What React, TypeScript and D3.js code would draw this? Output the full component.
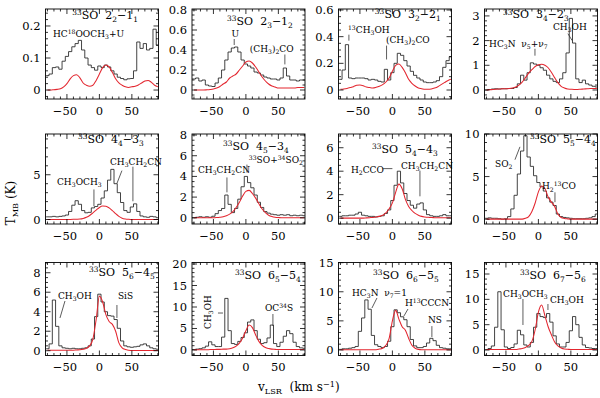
import React, { useEffect, useRef } from "react";
import * as d3 from "d3";

// channel velocities, km/s
const vlsr = [-80, -75, -70, -65, -60, -55, -50, -45, -40, -35, -30, -25, -20, -15, -10, -5, 0, 5, 10, 15, 20, 25, 30, 35, 40, 45, 50, 55, 60, 65, 70, 75, 80, 85, 90];

const xMajor = [-50, 0, 50];
const xMinor = [-80, -70, -60, -40, -30, -20, -10, 10, 20, 30, 40, 60, 70, 80, 90];

const titles = [
  "^{33}SO  2_{2}−1_{1}", "^{33}SO  2_{3}−1_{2}", "^{33}SO  3_{2}−2_{1}", "^{33}SO  3_{4}−2_{3}",
  "^{33}SO  4_{4}−3_{3}", "^{33}SO  4_{5}−3_{4}", "^{33}SO  5_{4}−4_{3}", "^{33}SO  5_{5}−4_{4}",
  "^{33}SO  5_{6}−4_{5}", "^{33}SO  6_{5}−5_{4}", "^{33}SO  6_{6}−5_{5}", "^{33}SO  6_{7}−5_{6}",
];

// observed spectra (black) and model (red), T_MB in K
const obs1 = [0.045, 0.05, 0.07, 0.072, 0.065, 0.09, 0.105, 0.12, 0.135, 0.145, 0.155, 0.125, 0.1, 0.078, 0.07, 0.062, 0.075, 0.07, 0.078, 0.072, 0.06, 0.05, 0.04, 0.036, 0.032, 0.035, 0.036, 0.06, 0.15, 0.13, 0.145, 0.125, 0.13, 0.19, 0.14];
const mod1 = [0, 0, 0.001, 0.002, 0.004, 0.01, 0.02, 0.035, 0.045, 0.048, 0.038, 0.022, 0.015, 0.012, 0.015, 0.03, 0.05, 0.07, 0.078, 0.072, 0.055, 0.035, 0.022, 0.015, 0.01, 0.008, 0.01, 0.012, 0.016, 0.022, 0.028, 0.03, 0.024, 0.015, 0.01];
const obs2 = [0.11, 0.12, 0.09, 0.1, 0.05, 0.04, 0.035, 0.07, 0.12, 0.2, 0.3, 0.38, 0.42, 0.43, 0.38, 0.3, 0.26, 0.24, 0.22, 0.18, 0.17, 0.15, 0.13, 0.12, 0.11, 0.11, 0.1, 0.12, 0.22, 0.14, 0.1, 0.1, 0.09, 0.1, 0.1];
const mod2 = [0, 0, 0, 0, 0.002, 0.005, 0.01, 0.02, 0.035, 0.06, 0.08, 0.12, 0.14, 0.16, 0.2, 0.24, 0.28, 0.29, 0.27, 0.23, 0.18, 0.13, 0.09, 0.06, 0.04, 0.03, 0.02, 0.02, 0.02, 0.02, 0.02, 0.02, 0.025, 0.025, 0.025];
const obs3 = [0.08, 0.15, 0.34, 0.09, 0.085, 0.09, 0.09, 0.09, 0.085, 0.075, 0.08, 0.075, 0.065, 0.06, 0.155, 0.075, 0.13, 0.2, 0.275, 0.26, 0.22, 0.18, 0.14, 0.11, 0.09, 0.075, 0.06, 0.055, 0.055, 0.06, 0.07, 0.1, 0.17, 0.22, 0.25];
const mod3 = [0.005, 0.008, 0.012, 0.018, 0.025, 0.035, 0.037, 0.032, 0.022, 0.018, 0.015, 0.02, 0.028, 0.04, 0.06, 0.09, 0.14, 0.185, 0.195, 0.17, 0.13, 0.08, 0.05, 0.03, 0.015, 0.01, 0.005, 0.005, 0.008, 0.015, 0.025, 0.04, 0.055, 0.07, 0.08];
const obs4 = [0, 0.02, 0.04, 0.05, 0.04, 0.05, 0.05, 0.06, 0.06, 0.1, 0.25, 0.6, 0.4, 0.7, 1.1, 1.05, 1.0, 0.9, 0.8, 0.6, 0.45, 0.35, 0.3, 0.45, 0.7, 1.5, 2.9, 1.9, 0.45, 0.3, 0.4, 0.25, 0.2, 0.15, 0.12];
const mod4 = [0, 0.01, 0.02, 0.03, 0.04, 0.05, 0.05, 0.06, 0.08, 0.12, 0.2, 0.32, 0.5, 0.68, 0.82, 0.95, 1.02, 1.04, 1.0, 0.9, 0.72, 0.5, 0.3, 0.15, 0.08, 0.04, 0.03, 0.02, 0.02, 0.03, 0.04, 0.05, 0.06, 0.06, 0.06];
const obs5 = [0.3, 0.3, 0.35, 0.3, 0.35, 0.4, 0.5, 0.9, 1.6, 2.1, 1.7, 1.0, 0.75, 0.8, 1.3, 1.45, 1.7, 2.4, 3.2, 4.4, 5.6, 4.0, 3.0, 1.9, 1.0, 0.8, 1.4, 1.75, 0.9, 0.4, 0.3, 0.25, 0.35, 0.3, 0.2];
const mod5 = [0, 0, 0, 0, 0, 0, 0, 0.01, 0.02, 0.03, 0.05, 0.12, 0.25, 0.45, 0.75, 1.05, 1.35, 1.5, 1.48, 1.3, 1.0, 0.65, 0.35, 0.15, 0.06, 0.02, 0, 0, 0, 0, 0, 0, 0, 0, 0];
const obs6 = [0, 0.05, 0.1, 0.05, 0.1, 0.05, 0.15, 0.4, 0.7, 0.9, 2.2, 1.3, 0.5, 0.9, 1.8, 3.0, 4.0, 3.4, 2.9, 2.2, 1.5, 1.0, 0.6, 0.45, 0.35, 0.3, 0.25, 0.3, 0.25, 0.3, 0.2, 0.25, 0.2, 0.25, 0.2];
const mod6 = [0, 0, 0, 0, 0, 0, 0.01, 0.02, 0.05, 0.1, 0.2, 0.35, 0.6, 1.0, 1.5, 2.1, 2.55, 2.65, 2.35, 1.9, 1.35, 0.85, 0.5, 0.25, 0.12, 0.05, 0.02, 0, 0, 0, 0, 0, 0, 0, 0];
const obs7 = [0.15, 0.2, 0.2, 0.25, 0.25, 0.35, 0.5, 0.25, 0.2, 0.15, 0.15, 0.1, 0.15, 0.2, 0.4, 0.7, 1.5, 2.8, 4.0, 3.0, 2.1, 1.5, 1.1, 0.85, 1.2, 1.3, 0.7, 0.3, 0.2, 0.15, 0.15, 0.2, 0.3, 0.2, 0.2];
const mod7 = [0, 0, 0, 0, 0, 0, 0, 0, 0.02, 0.04, 0.06, 0.1, 0.15, 0.25, 0.45, 0.8, 1.3, 2.2, 2.9, 2.5, 1.6, 1.0, 0.65, 0.4, 0.25, 0.15, 0.1, 0.07, 0.05, 0.04, 0.03, 0.03, 0.03, 0.03, 0.03];
const obs8 = [0.1, 0.15, 0.1, 0.1, 0.05, 0, 0.05, 0.3, 1.2, 2.8, 5.3, 8.0, 9.8, 7.3, 6.2, 5.1, 4.3, 3.8, 3.3, 2.5, 2.0, 1.6, 0.6, 0.3, 0.2, 0.15, 0.1, 0.05, 0.05, 0.05, 0.05, 0.1, 0.15, 0.3, 0.6];
const mod8 = [0, 0, 0, 0, 0, 0, 0, 0, 0, 0, 0, 0, 0.1, 0.3, 0.9, 1.9, 3.2, 3.9, 3.6, 2.6, 2.0, 1.5, 0.6, 0.2, 0.08, 0.03, 0, 0, 0, 0, 0, 0, 0, 0, 0];
const obs9 = [0.2, 0.7, 5.2, 2.5, 0.5, 0.3, 0.25, 0.2, 0.25, 0.2, 0.2, 0.25, 0.3, 0.5, 1.2, 3.5, 5.8, 5.0, 4.0, 3.6, 3.55, 3.2, 2.3, 1.0, 0.5, 0.4, 0.35, 0.4, 0.45, 0.6, 0.7, 0.5, 0.3, 0.2, 0.15];
const mod9 = [0.05, 0.05, 0.05, 0.05, 0.05, 0.05, 0.05, 0.05, 0.05, 0.08, 0.1, 0.15, 0.25, 0.5, 1.2, 3.2, 5.6, 5.0, 3.7, 3.0, 2.7, 2.0, 0.8, 0.3, 0.12, 0.05, 0.02, 0.02, 0.02, 0.02, 0.02, 0.02, 0.02, 0.02, 0.02];
const obs10 = [0.1, 0.2, 0.3, 0.5, 0.9, 1.9, 1.2, 0.8, 0.8, 3.0, 12.0, 4.5, 1.5, 1.3, 2.0, 2.9, 4.0, 6.5, 7.0, 4.5, 2.5, 1.5, 1.7, 2.8, 5.8, 1.5, 0.8, 1.8, 3.2, 4.5, 3.8, 1.8, 0.8, 0.5, 0.4];
const mod10 = [0.05, 0.05, 0.05, 0.05, 0.05, 0.1, 0.1, 0.15, 0.15, 0.2, 0.2, 0.3, 0.5, 0.9, 1.6, 2.8, 4.5, 5.8, 5.2, 3.5, 2.0, 1.1, 0.6, 0.35, 0.2, 0.15, 0.1, 0.1, 0.1, 0.1, 0.1, 0.1, 0.1, 0.1, 0.1];
const obs11 = [0.1, 0.2, 0.2, 0.3, 0.4, 0.6, 3.2, 5.5, 8.6, 7.0, 2.5, 0.9, 0.6, 0.4, 0.6, 1.5, 4.0, 6.9, 6.4, 5.7, 5.2, 4.0, 1.8, 0.7, 0.4, 0.4, 0.6, 1.2, 2.0, 1.6, 0.8, 0.4, 0.3, 0.2, 0.2];
const mod11 = [0.05, 0.05, 0.05, 0.05, 0.05, 0.05, 0.05, 0.05, 0.05, 0.05, 0.05, 0.05, 0.15, 0.3, 0.8, 2.0, 5.0, 6.8, 5.3, 4.0, 3.4, 2.0, 0.8, 0.3, 0.1, 0.05, 0.05, 0.05, 0.05, 0.05, 0.05, 0.05, 0.05, 0.05, 0.05];
const obs12 = [0.1, 0.3, 0.8, 4.5, 11.5, 4.0, 0.6, 0.3, 0.5, 1.2, 3.9, 3.0, 1.0, 0.6, 1.5, 4.5, 7.2, 6.6, 6.4, 7.2, 5.5, 2.8, 1.2, 0.6, 0.6, 1.5, 3.8, 6.6, 5.0, 2.5, 1.0, 0.5, 0.4, 0.3, 0.3];
const mod12 = [0.1, 0.1, 0.1, 0.1, 0.1, 0.1, 0.1, 0.1, 0.1, 0.1, 0.2, 0.3, 0.5, 0.9, 1.7, 4.0, 7.5, 8.9, 6.8, 4.6, 3.0, 1.6, 0.8, 0.4, 0.2, 0.15, 0.1, 0.1, 0.1, 0.1, 0.1, 0.1, 0.1, 0.1, 0.1];

const yTicks = [
  [0, 0.1, 0.2], [0, 0.2, 0.4, 0.6, 0.8], [0, 0.2, 0.4, 0.6], [0, 1, 2, 3],
  [0, 5], [0, 2, 4, 6, 8], [0, 2, 4, 6], [0, 5, 10],
  [0, 2, 4, 6, 8], [0, 5, 10, 15, 20], [0, 5, 10, 15], [0, 5, 10, 15],
];

const FONT = "'DejaVu Serif', serif";
const colLeft = [45.5, 192, 338.5, 484.5];
const rowTop = [9, 134, 262.5];
const rowH = [90, 90, 93];
const PW = 113;
const xDomain = [-83, 91];

type Label = { t: string; v: number; T: number; tick?: number[][]; rot?: boolean };
type Panel = { obs: number[]; mod: number[]; yd: number[]; minor: number; tv: number; tT: number; labels: Label[] };

const panels: Panel[] = [
  { obs: obs1, mod: mod1, yd: [-0.028, 0.253], minor: 0.02, tv: -42, tT: 0.222,
    labels: [{ t: "HC^{18}OOCH_{3}+U", v: -71.5, T: 0.167 }] },
  { obs: obs2, mod: mod2, yd: [-0.09, 0.81], minor: 0.05, tv: -29, tT: 0.65,
    labels: [
      { t: "U", v: -22, T: 0.533, tick: [[-18, 0.51], [-18, 0.45]] },
      { t: "(CH_{3})_{2}CO", v: 6, T: 0.385, tick: [[60, 0.355], [60, 0.256]] },
    ] },
  { obs: obs3, mod: mod3, yd: [-0.0675, 0.6075], minor: 0.05, tv: -27, tT: 0.54,
    labels: [
      { t: "^{13}CH_{3}OH", v: -68.4, T: 0.43, tick: [[-67, 0.415], [-67, 0.37]] },
      { t: "(CH_{3})_{2}CO", v: -10, T: 0.355, tick: [[-9, 0.333], [-9, 0.229]] },
    ] },
  { obs: obs4, mod: mod4, yd: [-0.365, 3.28], minor: 0.2, tv: -54.5, tT: 2.9,
    labels: [
      { t: "CH_{3}OH", v: 22.4, T: 2.44, tick: [[45.5, 2.28], [52, 2.0]] },
      { t: "HC_{3}N  ν_{5}+ν_{7}", v: -76, T: 1.75, tick: [[-5.3, 1.67], [-5.3, 1.39]] },
    ] },
  { obs: obs5, mod: mod5, yd: [-0.5, 9.55], minor: 1, tv: -33, tT: 8.56,
    labels: [
      { t: "CH_{3}OCH_{3}", v: -65.3, T: 3.9, tick: [[-8.4, 3.36], [-8.4, 1.48]] },
      { t: "CH_{3}CH_{2}CN", v: 16.2, T: 6.12, tick: [[34.7, 5.46], [27, 4.03]] },
      { t: "", v: 0, T: 0, tick: [[51.6, 5.9], [51.6, 2.04]] },
    ] },
  { obs: obs6, mod: mod6, yd: [-0.6, 8.1], minor: 0.5, tv: -35.3, tT: 6.57,
    labels: [
      { t: "CH_{3}CH_{2}CN", v: -73.8, T: 4.37, tick: [[-29.2, 3.9], [-29.2, 2.46]] },
      { t: "^{33}SO+^{34}SO_{2}", v: 4.5, T: 5.33, tick: [[1.6, 5.14], [1.6, 4.37]] },
    ] },
  { obs: obs7, mod: mod7, yd: [-0.5, 7.17], minor: 0.5, tv: -31.5, tT: 5.57,
    labels: [
      { t: "H_{2}CCO", v: -63.8, T: 3.88, tick: [[-15.3, 4.22], [0, 4.22]] },
      { t: "CH_{3}CH_{2}CN", v: 13.2, T: 4.22, tick: [[42.4, 4.05], [42.4, 1.86]] },
    ] },
  { obs: obs8, mod: mod8, yd: [-0.57, 10], minor: 1, tv: -13, tT: 8.95,
    labels: [
      { t: "SO_{2}", v: -66.8, T: 6.17, tick: [[-36.1, 6.98], [-28.4, 8.49]] },
      { t: "H_{2}^{13}CO", v: 5.5, T: 3.5, tick: [[25.5, 3.15], [25.5, 1.99]] },
    ] },
  { obs: obs9, mod: mod9, yd: [-0.49, 9.05], minor: 0.5, tv: -16, tT: 7.67,
    labels: [
      { t: "CH_{3}OH", v: -63.8, T: 5.31, tick: [[-53, 5.1], [-60.7, 3.36]] },
      { t: "SiS", v: 28.5, T: 5.31, tick: [[27, 4.69], [27, 3.36]] },
    ] },
  { obs: obs10, mod: mod10, yd: [-1.28, 20.35], minor: 1, tv: -16.8, tT: 16.5,
    labels: [
      { t: "CH_{3}OH", v: -53.8, T: 8.84, rot: true, tick: [[-43, 8.6], [-35.3, 8.6]] },
      { t: "OC^{34}S", v: 29.3, T: 9.07, tick: [[41.6, 8.37], [41.6, 5.58]] },
    ] },
  { obs: obs11, mod: mod11, yd: [-0.95, 15.03], minor: 1, tv: -29.9, tT: 12.2,
    labels: [
      { t: "HC_{3}N  ν_{7}=1", v: -62.2, T: 9.27, tick: [[-23.8, 8.93], [-31.5, 7.21]] },
      { t: "H^{13}CCCN", v: 19.3, T: 7.56, tick: [[24, 7.04], [17.8, 5.84]] },
      { t: "NS", v: 54.7, T: 4.63, tick: [[60.8, 4.1], [60.8, 2.23]] },
    ] },
  { obs: obs12, mod: mod12, yd: [-1.08, 17.27], minor: 1, tv: -28.4, tT: 14.02,
    labels: [
      { t: "CH_{3}OCH_{3}", v: -54.5, T: 10.47, tick: [[-23.8, 10.07], [-23.8, 4.94]] },
      { t: "CH_{3}OH", v: 17.8, T: 9.28, tick: [[14.7, 9.08], [14.7, 7.9]] },
    ] },
];

// write a tiny markup ("^{..}" superscript, "_{..}" subscript) into tspans
function rich(text: any, markup: string, size: number) {
  const parts = markup.split(/(\^\{[^}]*\}|_\{[^}]*\})/).filter((s) => s !== "");
  let cur = 0;
  parts.forEach((part) => {
    let off = 0, fs = size, str = part;
    if (part[0] === "^") { off = -0.33 * size; fs = 0.68 * size; str = part.slice(2, -1); }
    else if (part[0] === "_") { off = 0.26 * size; fs = 0.68 * size; str = part.slice(2, -1); }
    text.append("tspan").attr("dy", off - cur).attr("font-size", fs).text(str);
    cur = off;
  });
}

const fmt = (d: number) => String(d).replace("-", "−");

export default function App() {
  const ref = useRef<SVGSVGElement>(null);

  useEffect(() => {
    const svg = d3.select(ref.current).html("");
    svg.append("rect").attr("width", 600).attr("height", 398).attr("fill", "#fff");

    panels.forEach((p, i) => {
      const col = i % 4, row = Math.floor(i / 4);
      const left = colLeft[col], top = rowTop[row], h = rowH[row];
      const x = d3.scaleLinear().domain(xDomain).range([left, left + PW]);
      const y = d3.scaleLinear().domain(p.yd).range([top + h, top]);
      const g = svg.append("g").attr("font-family", FONT);

      const clipId = `clip${i}`;
      g.append("clipPath").attr("id", clipId)
        .append("rect").attr("x", left).attr("y", top).attr("width", PW).attr("height", h);

      // observed, histogram style
      const pts: [number, number][] = vlsr.map((v, k) => [v, p.obs[k]]);
      pts.unshift([xDomain[0], p.obs[0]]);
      pts.push([xDomain[1], p.obs[p.obs.length - 1]]);
      const step = d3.line<[number, number]>().x((d) => x(d[0])).y((d) => y(d[1])).curve(d3.curveStep);
      g.append("path").attr("d", step(pts)).attr("fill", "none")
        .attr("stroke", "#222").attr("stroke-width", 0.85).attr("clip-path", `url(#${clipId})`);

      // model
      const mpts: [number, number][] = vlsr.map((v, k) => [v, p.mod[k]]);
      const smooth = d3.line<[number, number]>().x((d) => x(d[0])).y((d) => y(d[1])).curve(d3.curveMonotoneX);
      g.append("path").attr("d", smooth(mpts)).attr("fill", "none")
        .attr("stroke", "#e3262f").attr("stroke-width", 1.05).attr("clip-path", `url(#${clipId})`);

      // frame
      g.append("rect").attr("x", left).attr("y", top).attr("width", PW).attr("height", h)
        .attr("fill", "none").attr("stroke", "#000").attr("stroke-width", 0.9);

      const tickPath = d3.path();
      const addX = (v: number, len: number) => {
        tickPath.moveTo(x(v), top + h); tickPath.lineTo(x(v), top + h - len);
        tickPath.moveTo(x(v), top); tickPath.lineTo(x(v), top + len);
      };
      const addY = (t: number, len: number) => {
        tickPath.moveTo(left, y(t)); tickPath.lineTo(left + len, y(t));
        tickPath.moveTo(left + PW, y(t)); tickPath.lineTo(left + PW - len, y(t));
      };
      xMajor.forEach((v) => addX(v, 5));
      xMinor.forEach((v) => addX(v, 2.5));
      const ticks = yTicks[i];
      ticks.forEach((t) => addY(t, 5));
      const lo = Math.ceil(p.yd[0] / p.minor - 1e-6), hi = Math.floor(p.yd[1] / p.minor + 1e-6);
      for (let k = lo; k <= hi; k++) {
        const t = k * p.minor;
        if (!ticks.some((m) => Math.abs(m - t) < 1e-6)) addY(t, 2.5);
      }
      g.append("path").attr("d", tickPath.toString()).attr("stroke", "#000").attr("stroke-width", 0.8).attr("fill", "none");

      // tick labels
      ticks.forEach((t) => {
        g.append("text").attr("x", left - 5).attr("y", y(t) + 4).attr("text-anchor", "end")
          .attr("font-size", 11.5).attr("fill", "#000").text(fmt(t));
      });
      xMajor.forEach((v) => {
        g.append("text").attr("x", x(v) - (v < 0 ? 2 : 0)).attr("y", top + h + 15.5).attr("text-anchor", "middle")
          .attr("font-size", 11.5).attr("fill", "#000").text(fmt(v));
      });

      // title
      const title = g.append("text").attr("x", x(p.tv)).attr("y", y(p.tT))
        .attr("font-size", 11).attr("fill", "#000").style("white-space", "pre");
      rich(title, titles[i], 11);

      // line identifications
      p.labels.forEach((lab) => {
        if (lab.t) {
          const t = g.append("text").attr("font-size", 9).attr("fill", "#000").style("white-space", "pre");
          if (lab.rot) {
            t.attr("text-anchor", "middle")
              .attr("transform", `translate(${x(lab.v)},${y(lab.T)}) rotate(-90)`);
          } else {
            t.attr("x", x(lab.v)).attr("y", y(lab.T));
          }
          rich(t, lab.t, 9);
        }
        if (lab.tick) {
          g.append("line")
            .attr("x1", x(lab.tick[0][0])).attr("y1", y(lab.tick[0][1]))
            .attr("x2", x(lab.tick[1][0])).attr("y2", y(lab.tick[1][1]))
            .attr("stroke", "#333").attr("stroke-width", 0.8);
        }
      });
    });

    // axis titles
    const yl = svg.append("text").attr("font-family", FONT).attr("font-size", 12).attr("fill", "#000")
      .attr("text-anchor", "middle").attr("transform", "translate(15,203) rotate(-90)");
    rich(yl, "T_{MB} (K)", 12);
    const xl = svg.append("text").attr("font-family", FONT).attr("font-size", 12).attr("fill", "#000")
      .attr("x", 258).attr("y", 391).style("white-space", "pre");
    rich(xl, "v_{LSR}  (km s^{−1})", 12);
  }, []);

  return (
    <div style={{ position: "absolute", left: 0, top: 0 }}>
      <svg ref={ref} width={600} height={398} />
    </div>
  );
}
